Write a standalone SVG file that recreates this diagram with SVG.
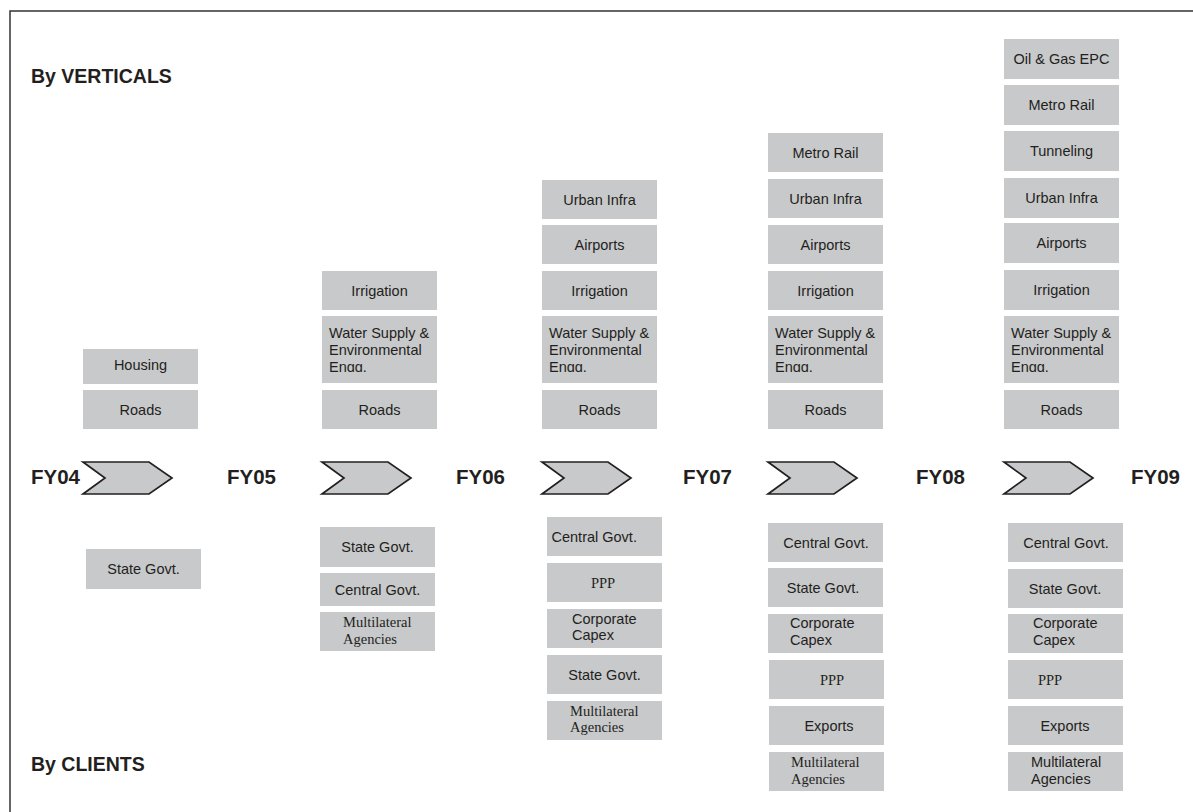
<svg xmlns="http://www.w3.org/2000/svg" width="1193" height="812" viewBox="0 0 1193 812">
<style>
.bx{fill:#c8c9cb;stroke:none}
.t{font-family:"Liberation Sans",Arial,sans-serif;font-size:14.5px;fill:#231f20}
.c{text-anchor:middle}
.s{font-family:"Liberation Serif","Times New Roman",serif;font-size:14.5px;fill:#231f20}
.h{font-family:"Liberation Sans",Arial,sans-serif;font-size:19.5px;font-weight:bold;fill:#231f20}
.fy{font-family:"Liberation Sans",Arial,sans-serif;font-size:20.5px;font-weight:bold;fill:#231f20}
.chev{fill:#c8c9cb;stroke:#231f20;stroke-width:1.7;stroke-linejoin:miter}
</style>
<defs>
<clipPath id="engg"><rect x="0" y="300" width="1193" height="72"/></clipPath>
<g id="ch"><polygon class="chev" points="0,462 66,462 89,478 66,494 0,494 22,478"/></g>
</defs>
<rect x="0" y="0" width="1193" height="812" fill="#ffffff"/>
<rect x="10" y="11" width="1200" height="820" fill="none" stroke="#333333" stroke-width="1.5"/>
<text class="h" x="31" y="83">By VERTICALS</text>
<text class="h" x="31" y="771">By CLIENTS</text>

<g id="connectors">
<use href="#ch" x="83"/>
<use href="#ch" x="322"/>
<use href="#ch" x="542"/>
<use href="#ch" x="768"/>
<use href="#ch" x="1004"/>
</g>

<g id="years">
<text class="fy" x="31" y="484">FY04</text>
<text class="fy" x="227" y="484">FY05</text>
<text class="fy" x="456" y="484">FY06</text>
<text class="fy" x="683" y="484">FY07</text>
<text class="fy" x="916" y="484">FY08</text>
<text class="fy" x="1131" y="484">FY09</text>
</g>

<!-- FY04-05 verticals -->
<g id="v1-housing"><rect class="bx" x="83" y="349" width="115" height="35"/><text class="t c" x="140.5" y="370">Housing</text></g>
<g id="v1-roads"><rect class="bx" x="83" y="390" width="115" height="39"/><text class="t c" x="140.5" y="414.5">Roads</text></g>
<!-- FY05-06 -->
<g id="v2-irrigation"><rect class="bx" x="322" y="271" width="115" height="39"/><text class="t c" x="379.5" y="295.5">Irrigation</text></g>
<g id="v2-water"><rect class="bx" x="322" y="316" width="115" height="67"/><text class="t" clip-path="url(#engg)"><tspan x="329" y="338">Water Supply &amp;</tspan><tspan x="329" y="354.5">Environmental</tspan><tspan x="329" y="371.5">Engg.</tspan></text></g>
<g id="v2-roads"><rect class="bx" x="322" y="390" width="115" height="39"/><text class="t c" x="379.5" y="414.5">Roads</text></g>
<!-- FY06-07 -->
<g id="v3-urban"><rect class="bx" x="542" y="180" width="115" height="39"/><text class="t c" x="599.5" y="204.5">Urban Infra</text></g>
<g id="v3-airports"><rect class="bx" x="542" y="225" width="115" height="39"/><text class="t c" x="599.5" y="249.5">Airports</text></g>
<g id="v3-irrigation"><rect class="bx" x="542" y="271" width="115" height="39"/><text class="t c" x="599.5" y="295.5">Irrigation</text></g>
<g id="v3-water"><rect class="bx" x="542" y="316" width="115" height="67"/><text class="t" clip-path="url(#engg)"><tspan x="549" y="338">Water Supply &amp;</tspan><tspan x="549" y="354.5">Environmental</tspan><tspan x="549" y="371.5">Engg.</tspan></text></g>
<g id="v3-roads"><rect class="bx" x="542" y="390" width="115" height="39"/><text class="t c" x="599.5" y="414.5">Roads</text></g>
<!-- FY07-08 -->
<g id="v4-metro"><rect class="bx" x="768" y="133" width="115" height="39"/><text class="t c" x="825.5" y="157.5">Metro Rail</text></g>
<g id="v4-urban"><rect class="bx" x="768" y="179" width="115" height="39"/><text class="t c" x="825.5" y="203.5">Urban Infra</text></g>
<g id="v4-airports"><rect class="bx" x="768" y="225" width="115" height="39"/><text class="t c" x="825.5" y="249.5">Airports</text></g>
<g id="v4-irrigation"><rect class="bx" x="768" y="271" width="115" height="39"/><text class="t c" x="825.5" y="295.5">Irrigation</text></g>
<g id="v4-water"><rect class="bx" x="768" y="316" width="115" height="67"/><text class="t" clip-path="url(#engg)"><tspan x="775" y="338">Water Supply &amp;</tspan><tspan x="775" y="354.5">Environmental</tspan><tspan x="775" y="371.5">Engg.</tspan></text></g>
<g id="v4-roads"><rect class="bx" x="768" y="390" width="115" height="39"/><text class="t c" x="825.5" y="414.5">Roads</text></g>
<!-- FY08-09 -->
<g id="v5-oil"><rect class="bx" x="1004" y="39" width="115" height="40"/><text class="t c" x="1061.5" y="64">Oil &amp; Gas EPC</text></g>
<g id="v5-metro"><rect class="bx" x="1004" y="85" width="115" height="40"/><text class="t c" x="1061.5" y="110">Metro Rail</text></g>
<g id="v5-tunnel"><rect class="bx" x="1004" y="131" width="115" height="40"/><text class="t c" x="1061.5" y="156">Tunneling</text></g>
<g id="v5-urban"><rect class="bx" x="1004" y="178" width="115" height="40"/><text class="t c" x="1061.5" y="203">Urban Infra</text></g>
<g id="v5-airports"><rect class="bx" x="1004" y="223" width="115" height="40"/><text class="t c" x="1061.5" y="248">Airports</text></g>
<g id="v5-irrigation"><rect class="bx" x="1004" y="270" width="115" height="40"/><text class="t c" x="1061.5" y="295">Irrigation</text></g>
<g id="v5-water"><rect class="bx" x="1004" y="316" width="115" height="67"/><text class="t" clip-path="url(#engg)"><tspan x="1011" y="338">Water Supply &amp;</tspan><tspan x="1011" y="354.5">Environmental</tspan><tspan x="1011" y="371.5">Engg.</tspan></text></g>
<g id="v5-roads"><rect class="bx" x="1004" y="390" width="115" height="39"/><text class="t c" x="1061.5" y="414.5">Roads</text></g>

<!-- Clients -->
<g id="c1-state"><rect class="bx" x="86" y="549" width="115" height="40"/><text class="t c" x="143.5" y="574">State Govt.</text></g>

<g id="c2-state"><rect class="bx" x="320" y="527" width="115" height="40"/><text class="t c" x="377.5" y="552">State Govt.</text></g>
<g id="c2-central"><rect class="bx" x="320" y="573" width="115" height="33"/><text class="t c" x="377.5" y="594.5">Central Govt.</text></g>
<g id="c2-multi"><rect class="bx" x="320" y="612" width="115" height="39"/><text class="s"><tspan x="343" y="627">Multilateral</tspan><tspan x="343" y="643.5">Agencies</tspan></text></g>

<g id="c3-central"><rect class="bx" x="547" y="517" width="115" height="39"/><text class="t" x="551.5" y="541.5">Central Govt.</text></g>
<g id="c3-ppp"><rect class="bx" x="547" y="563" width="115" height="39"/><text class="s c" x="603" y="587.5">PPP</text></g>
<g id="c3-corp"><rect class="bx" x="547" y="609" width="115" height="39"/><text class="t"><tspan x="572" y="623.5">Corporate</tspan><tspan x="572" y="640">Capex</tspan></text></g>
<g id="c3-state"><rect class="bx" x="547" y="655" width="115" height="39"/><text class="t c" x="604.5" y="679.5">State Govt.</text></g>
<g id="c3-multi"><rect class="bx" x="547" y="701" width="115" height="39"/><text class="s"><tspan x="570" y="715.5">Multilateral</tspan><tspan x="570" y="731.5">Agencies</tspan></text></g>

<g id="c4-central"><rect class="bx" x="768" y="523" width="115" height="39"/><text class="t c" x="826" y="547.5">Central Govt.</text></g>
<g id="c4-state"><rect class="bx" x="768" y="568" width="115" height="39"/><text class="t c" x="823" y="592.5">State Govt.</text></g>
<g id="c4-corp"><rect class="bx" x="768" y="614" width="115" height="39"/><text class="t"><tspan x="790" y="628">Corporate</tspan><tspan x="790" y="644.5">Capex</tspan></text></g>
<g id="c4-ppp"><rect class="bx" x="769" y="660" width="115" height="39"/><text class="s c" x="832" y="684.5">PPP</text></g>
<g id="c4-exports"><rect class="bx" x="769" y="706" width="115" height="39"/><text class="t c" x="829" y="730.5">Exports</text></g>
<g id="c4-multi"><rect class="bx" x="769" y="752" width="115" height="39"/><text class="s"><tspan x="791" y="767">Multilateral</tspan><tspan x="791" y="783.5">Agencies</tspan></text></g>

<g id="c5-central"><rect class="bx" x="1008" y="523" width="115" height="39"/><text class="t c" x="1066" y="547.5">Central Govt.</text></g>
<g id="c5-state"><rect class="bx" x="1008" y="569" width="115" height="39"/><text class="t c" x="1065" y="593.5">State Govt.</text></g>
<g id="c5-corp"><rect class="bx" x="1008" y="614" width="115" height="39"/><text class="t"><tspan x="1033" y="628">Corporate</tspan><tspan x="1033" y="644.5">Capex</tspan></text></g>
<g id="c5-ppp"><rect class="bx" x="1008" y="660" width="115" height="39"/><text class="s c" x="1050" y="684.5">PPP</text></g>
<g id="c5-exports"><rect class="bx" x="1008" y="706" width="115" height="39"/><text class="t c" x="1065" y="730.5">Exports</text></g>
<g id="c5-multi"><rect class="bx" x="1008" y="752" width="115" height="39"/><text class="t"><tspan x="1031" y="766.5">Multilateral</tspan><tspan x="1031" y="783.5">Agencies</tspan></text></g>
</svg>
